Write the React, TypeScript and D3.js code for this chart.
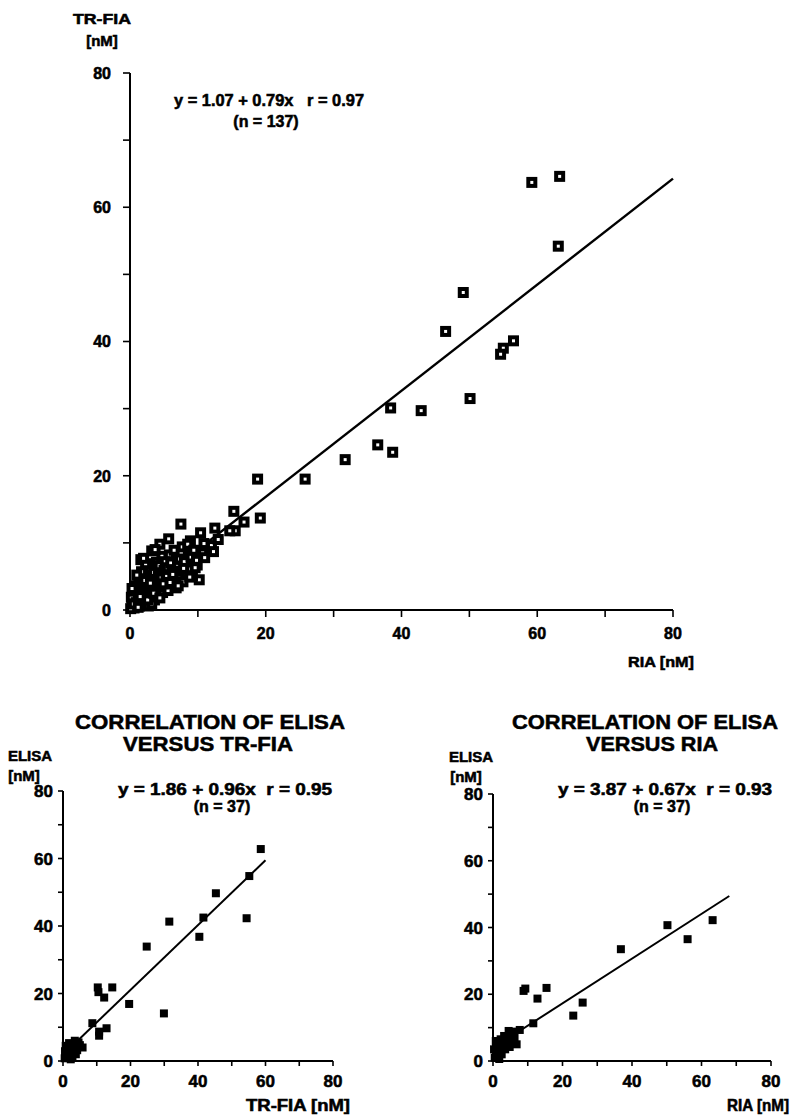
import React from "react";
import * as d3 from "d3";

// ---------- DATA ----------
// Top: TR-FIA (y) vs RIA (x), n = 137
const topX = [
  59.2, 63.3, 63.1, 49.1, 46.5, 56.5, 55.0, 54.6, 50.1, 38.4, 42.9, 36.5, 38.7, 31.7, 25.8, 18.8,
  15.3, 19.2, 16.8, 15.5, 14.7, 12.5, 7.5, 10.4, 8.9, 5.7, 4.4, 11.5, 10.7, 5.8, 3.2, 1.6, 9.9, 8.2, 10.2, 6.9, 8.6,
  0.3, 0.5, 0.6, 0.8, 1.0, 1.1, 1.2, 1.4, 1.5, 1.6, 1.8, 1.9, 2.0, 2.1, 2.2, 2.4, 2.5, 2.6, 2.8, 2.9,
  3.0, 3.1, 3.3, 3.4, 3.5, 3.6, 3.8, 3.9, 4.0, 4.1, 4.2, 4.3, 4.5, 4.6, 4.7, 4.8, 5.0, 5.1, 5.2, 5.3,
  5.5, 5.6, 5.8, 6.0, 6.1, 6.2, 6.4, 6.5, 6.7, 6.8, 7.0, 7.2, 7.3, 7.5, 7.7, 7.8, 8.0, 8.3, 8.5, 8.7,
  9.0, 9.2, 9.4, 9.6, 0.2, 0.4, 0.7, 0.9, 1.3, 1.7, 2.3, 2.7, 3.2, 0.1, 0.3, 1.0, 2.0, 3.7, 12.0, 13.0,
  11.0, 12.3, 0.5, 1.2, 1.5, 2.2, 2.6, 3.0, 3.5, 4.4, 4.9, 5.4, 5.9, 6.3, 7.1, 7.9, 8.8, 9.8, 10.9,
];
const topY = [
  63.7, 64.6, 54.2, 47.3, 41.5, 40.1, 39.0, 38.1, 31.5, 30.1, 29.7, 24.6, 23.5, 22.4, 19.5, 19.5,
  14.7, 13.7, 13.1, 11.8, 11.8, 12.2, 12.8, 11.5, 10.3, 10.6, 9.8, 9.2, 8.5, 8.2, 8.8, 7.5, 6.7, 6.6, 4.5, 4.0, 8.4,
  0.5, 1.2, 0.3, 2.0, 0.8, 1.6, 2.6, 0.6, 3.2, 1.4, 2.2, 4.1, 0.9, 3.0, 1.8, 5.0, 2.5, 3.8, 1.2, 6.3,
  2.9, 4.6, 2.0, 3.6, 5.6, 1.5, 4.2, 7.1, 3.0, 2.3, 5.1, 6.6, 3.8, 4.8, 8.0, 2.6, 5.9, 3.4, 7.2, 4.4,
  6.3, 2.9, 5.2, 7.0, 3.9, 6.0, 4.7, 8.9, 5.6, 3.3, 6.5, 4.8, 7.6, 5.8, 9.4, 4.2, 7.2, 5.5, 9.8, 6.1,
  7.9, 5.1, 8.9, 6.3, 1.9, 2.8, 3.6, 1.1, 4.8, 5.7, 6.9, 0.6, 0.9, 0.2, 3.2, 5.2, 7.7, 9.0, 9.6, 10.5,
  7.8, 8.7, 0.9, 0.4, 2.0, 4.4, 1.5, 4.0, 2.5, 1.8, 3.9, 5.0, 4.1, 5.3, 3.6, 6.2, 4.9, 7.4, 9.9,
];

// Bottom left: ELISA (y) vs TR-FIA (x), n = 37
const blX = [
  58.6, 55.2, 54.4, 45.3, 41.6, 40.4, 31.5, 24.8, 29.9, 19.6, 14.6, 10.3, 10.5, 12.2, 8.7, 12.9, 10.7, 10.7,
  5.0, 4.2, 3.5, 3.0, 2.5, 2.0, 1.5, 1.0, 0.8, 2.8, 3.8, 1.8, 0.5, 2.3, 4.6, 1.2, 3.2, 0.6, 5.8,
];
const blY = [
  62.8, 54.8, 42.3, 49.7, 42.5, 36.8, 41.3, 33.9, 14.1, 16.9, 21.8, 21.8, 20.4, 18.8, 11.2, 9.7, 8.7, 7.5,
  4.7, 3.2, 6.0, 5.0, 4.1, 2.6, 3.5, 1.5, 4.5, 1.2, 2.0, 5.3, 0.8, 0.5, 5.5, 2.4, 3.4, 2.9, 4.0,
];

// Bottom right: ELISA (y) vs RIA (x), n = 37
const brX = [
  63.2, 56.0, 50.2, 36.8, 25.8, 23.1, 15.4, 12.8, 8.8, 9.3, 11.6, 7.7, 5.5,
  4.5, 5.0, 6.0, 6.8, 4.0, 3.0, 2.0, 1.0, 1.5, 0.5, 2.5, 3.5, 0.8, 1.2, 2.2, 4.8, 3.2, 5.8, 1.8, 0.3,
  2.8, 4.2, 6.2, 1.0,
];
const brY = [
  42.2, 36.5, 40.7, 33.5, 17.5, 13.6, 21.9, 18.7, 21.0, 21.7, 11.3, 9.3, 8.8,
  9.0, 7.0, 6.0, 5.0, 5.0, 6.0, 4.0, 3.0, 5.5, 1.0, 2.0, 3.5, 6.0, 1.8, 6.5, 4.2, 7.5, 8.0, 0.6, 3.5,
  4.8, 6.8, 7.0, 4.4,
];

const tickValues = [0, 20, 40, 60, 80];
const minorTickValues = [0, 10, 20, 30, 40, 50, 60, 70, 80];

const topFit = { a: 1.07, b: 0.79, from: 0, to: 80 };
const blFit = { a: 1.86, b: 0.96, from: 0, to: 60 };
const brFit = { a: 3.87, b: 0.67, from: 0, to: 68 };

const topEquation = "y = 1.07 + 0.79x   r = 0.97";
const topN = "(n = 137)";
const blEquation = "y = 1.86 + 0.96x  r = 0.95";
const brEquation = "y = 3.87 + 0.67x  r = 0.93";
const bottomN = "(n = 37)";

const FONT = "'Liberation Sans', Arial, Helvetica, sans-serif";
const heavy = { stroke: "#000", strokeWidth: 0.55, fontFamily: FONT, fontWeight: "bold" as const };

type PanelProps = {
  xs: number[];
  ys: number[];
  fit: { a: number; b: number; from: number; to: number };
  xr: [number, number];
  yr: [number, number];
  open: boolean;
  tickLen: number;
  tickFont: number;
  markSize: number;
  lineW: number;
  labelGap: number;
  xLabelDy: number;
};

function Panel(p: PanelProps) {
  const x = d3.scaleLinear().domain([0, 80]).range(p.xr);
  const y = d3.scaleLinear().domain([0, 80]).range(p.yr);
  const line = d3
    .line<number>()
    .x((v) => x(v))
    .y((v) => y(p.fit.a + p.fit.b * v));
  const s = p.markSize;
  return (
    <g>
      <line x1={x(0)} x2={x(0)} y1={y(0)} y2={y(80)} stroke="#000" strokeWidth={2} />
      <line x1={x(0)} x2={x(80)} y1={y(0)} y2={y(0)} stroke="#000" strokeWidth={2} />
      {minorTickValues.map((t) => (
        <g key={"t" + t}>
          <line x1={x(0) - p.tickLen} x2={x(0)} y1={y(t)} y2={y(t)} stroke="#000" strokeWidth={1.6} />
          <line x1={x(t)} x2={x(t)} y1={y(0)} y2={y(0) + p.tickLen} stroke="#000" strokeWidth={1.6} />
        </g>
      ))}
      {tickValues.map((t) => (
        <g key={"l" + t} {...heavy} fontSize={p.tickFont}>
          <text x={x(0) - p.labelGap} y={y(t)} dy="0.36em" textAnchor="end">
            {t}
          </text>
          <text x={x(t)} y={y(0) + p.xLabelDy} textAnchor="middle">
            {t}
          </text>
        </g>
      ))}
      <path d={line([p.fit.from, p.fit.to]) || ""} stroke="#000" strokeWidth={p.lineW} fill="none" />
      {p.xs.map((v, i) =>
        p.open ? (
          <rect
            key={i}
            x={x(v) - s / 2}
            y={y(p.ys[i]) - s / 2}
            width={s}
            height={s}
            fill="#fff"
            stroke="#000"
            strokeWidth={4}
          />
        ) : (
          <rect key={i} x={x(v) - s / 2} y={y(p.ys[i]) - s / 2} width={s} height={s} fill="#000" />
        )
      )}
    </g>
  );
}

export default function App() {
  return (
    <svg
      width={792}
      height={1116}
      viewBox="0 0 792 1116"
      style={{ position: "absolute", left: 0, top: 0, background: "#fff" }}
    >
      <rect x={0} y={0} width={792} height={1116} fill="#fff" />
      {/* ---------- TOP CHART ---------- */}
      <g {...heavy}>
        <text x={102} y={24} fontSize={15} textAnchor="middle" textLength={58} lengthAdjust="spacingAndGlyphs">TR-FIA</text>
        <text x={102} y={46} fontSize={15} textAnchor="middle">[nM]</text>
        <text x={269} y={106} fontSize={16} textAnchor="middle" xmlSpace="preserve" textLength={190} lengthAdjust="spacingAndGlyphs">
          {topEquation}
        </text>
        <text x={266} y={127} fontSize={16} textAnchor="middle">{topN}</text>
        <text x={694} y={667} fontSize={15} textAnchor="end" textLength={66} lengthAdjust="spacingAndGlyphs">RIA [nM]</text>
      </g>
      <Panel
        xs={topX}
        ys={topY}
        fit={topFit}
        xr={[130, 673]}
        yr={[610, 73]}
        open={true}
        tickLen={7}
        tickFont={16}
        markSize={7}
        lineW={2.4}
        labelGap={19}
        xLabelDy={29}
      />

      {/* ---------- BOTTOM LEFT ---------- */}
      <g {...heavy}>
        <text x={210} y={729} fontSize={21} textAnchor="middle" textLength={270} lengthAdjust="spacingAndGlyphs">
          CORRELATION OF ELISA
        </text>
        <text x={208} y={751} fontSize={21} textAnchor="middle" textLength={170} lengthAdjust="spacingAndGlyphs">VERSUS TR-FIA</text>
        <text x={30} y={761} fontSize={15} textAnchor="middle">ELISA</text>
        <text x={24} y={781} fontSize={15} textAnchor="middle">[nM]</text>
        <text x={225} y={795} fontSize={16} textAnchor="middle" xmlSpace="preserve" textLength={214} lengthAdjust="spacingAndGlyphs">
          {blEquation}
        </text>
        <text x={222} y={812} fontSize={16} textAnchor="middle">{bottomN}</text>
        <text x={350} y={1111} fontSize={16} textAnchor="end" textLength={104} lengthAdjust="spacingAndGlyphs">TR-FIA [nM]</text>
      </g>
      <Panel
        xs={blX}
        ys={blY}
        fit={blFit}
        xr={[63, 333]}
        yr={[1061, 791]}
        open={false}
        tickLen={5}
        tickFont={17}
        markSize={8}
        lineW={2}
        labelGap={10}
        xLabelDy={26}
      />

      {/* ---------- BOTTOM RIGHT ---------- */}
      <g {...heavy}>
        <text x={645} y={729} fontSize={21} textAnchor="middle" textLength={266} lengthAdjust="spacingAndGlyphs">
          CORRELATION OF ELISA
        </text>
        <text x={652} y={751} fontSize={21} textAnchor="middle" textLength={132} lengthAdjust="spacingAndGlyphs">VERSUS RIA</text>
        <text x={471} y={762} fontSize={15} textAnchor="middle">ELISA</text>
        <text x={466} y={782} fontSize={15} textAnchor="middle">[nM]</text>
        <text x={665} y={795} fontSize={16} textAnchor="middle" xmlSpace="preserve" textLength={214} lengthAdjust="spacingAndGlyphs">
          {brEquation}
        </text>
        <text x={662} y={812} fontSize={16} textAnchor="middle">{bottomN}</text>
        <text x={789} y={1111} fontSize={16} textAnchor="end" textLength={62} lengthAdjust="spacingAndGlyphs">RIA [nM]</text>
      </g>
      <Panel
        xs={brX}
        ys={brY}
        fit={brFit}
        xr={[493, 771]}
        yr={[1061, 794]}
        open={false}
        tickLen={5}
        tickFont={17}
        markSize={8}
        lineW={2}
        labelGap={10}
        xLabelDy={26}
      />
    </svg>
  );
}
